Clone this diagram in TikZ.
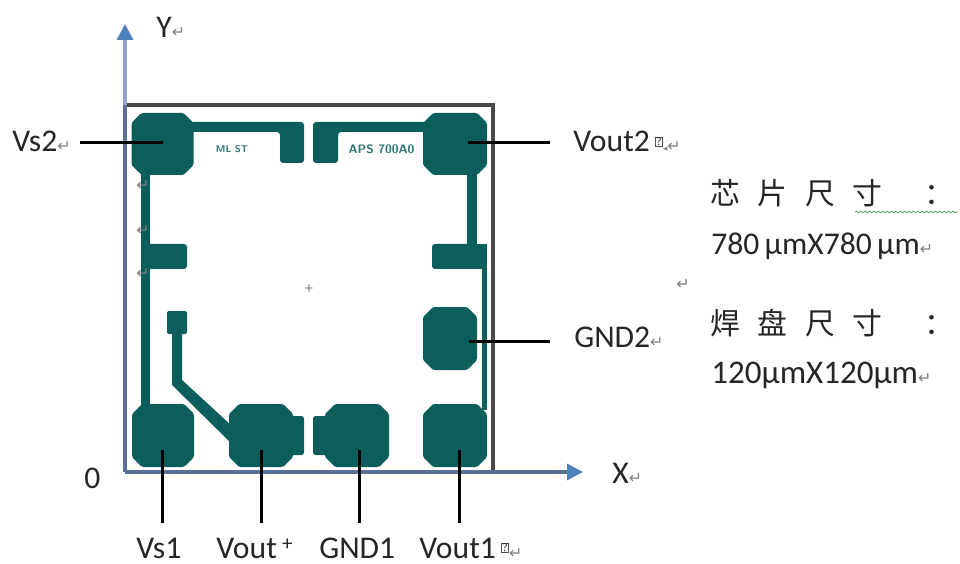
\documentclass[tikz,border=0pt]{standalone}
\usepackage{fontspec}
\setmainfont{Carlito}
\newfontfamily\cjk{Noto Sans CJK SC}
\newfontfamily\symbolfont{DejaVu Sans}
\usetikzlibrary{decorations.pathmorphing,arrows.meta}
\definecolor{chipteal}{HTML}{0B5E5B}
\definecolor{axisblue}{HTML}{4F81BD}
\definecolor{axisgrey}{HTML}{8FA6C0}
\definecolor{frameblue}{HTML}{5A7096}
\definecolor{framedark}{HTML}{4A4A4A}
\definecolor{markgrey}{HTML}{808080}
\definecolor{wavegreen}{HTML}{5FA05F}
\newcommand{\parmark}{{\symbolfont\fontsize{9}{9}\selectfont\textcolor{markgrey}{↵}}}
\newcommand{\qmark}{\tikz[baseline=-0.5pt]\node[draw=black!70,line width=0.016cm,inner sep=0.5pt,font=\fontsize{6.5}{6.5}\selectfont]{?};}
% pad with cut corners: name, centre x, centre y, half width, half height
\newcommand{\chippad}[5]{%
  \coordinate (#1) at (#2,#3);
  \fill [chipteal,rounded corners=0.03cm] (#2-#4+10,#3-#5) -- (#2+#4-10,#3-#5) -- (#2+#4,#3-#5+10) -- (#2+#4,#3+#5-10)
    -- (#2+#4-10,#3+#5) -- (#2-#4+10,#3+#5) -- (#2-#4,#3+#5-10) -- (#2-#4,#3-#5+10) -- cycle;%
}
\tikzset{
  pinlabel/.style={anchor=base west,inner sep=0pt,font=\fontsize{18}{18}\selectfont,text=black!85},
  sizetext/.style={anchor=base west,inner sep=0pt,font=\fontsize{18}{18}\selectfont,text=black!85},
  cjktext/.style={anchor=base west,inner sep=0pt,font=\cjk\fontsize{17}{17}\selectfont,text=black!85},
  chiptext/.style={inner sep=0pt,font=\sffamily\bfseries\fontsize{5.6}{5.6}\selectfont,text=chipteal!85},
  leaderline/.style={line width=0.06cm,black},
  markpin/.style={inner sep=0pt}
}
\begin{document}
\begin{tikzpicture}[x=0.02cm,y=-0.02cm]
  \useasboundingbox (0,0) rectangle (960,564);

  % Drawing frame and axes
  \coordinate (origin) at (125,472);
  \coordinate (xtip) at (583,472);
  \coordinate (ytip) at (125,24);
  \coordinate (frametl) at (125,105);
  \coordinate (frametr) at (493,105);
  \coordinate (framebr) at (493,472);
  \draw [line width=0.065cm,framedark] (frametl) -- (frametr) -- (framebr);
  \draw [line width=0.065cm,axisgrey,-{Triangle[length=0.32cm,width=0.32cm,color=axisblue]}] (frametl) -- (ytip);
  \draw [line width=0.065cm,frameblue] (origin) -- (frametl);
  \draw [line width=0.065cm,frameblue,-{Triangle[length=0.32cm,width=0.32cm,color=axisblue]}] (origin) -- (xtip);

  % Drawing traces
  \fill [chipteal,rounded corners=0.06cm] (190,122) -- (304,122) -- (304,163) -- (280,163) -- (280,132) -- (190,132) -- cycle;
  \fill [chipteal,rounded corners=0.06cm] (428,122) -- (313,122) -- (313,163) -- (338,163) -- (338,132) -- (428,132) -- cycle;
  \fill [chipteal] (141,170) rectangle (150,410);
  \fill [chipteal,rounded corners=0.06cm] (145,244) -- (187,244) -- (187,269) -- (145,269) -- cycle;
  \fill [chipteal] (467,170) rectangle (477,250);
  \fill [chipteal,rounded corners=0.06cm] (470,244) -- (432,244) -- (432,269) -- (470,269) -- cycle;
  \fill [chipteal] (460,244) rectangle (487,269);
  \fill [chipteal] (482,260) rectangle (487,410);
  \fill [chipteal,rounded corners=0.04cm] (167,311) rectangle (187,334);
  \fill [chipteal] (172,330) -- (182,330) -- (182,380) -- (232,426) -- (232,444) -- (172,385) -- cycle;

  % Drawing pads
  \chippad{padvstwo}{162.5}{144}{31}{31}
  \chippad{padvouttwo}{455}{144}{32}{31}
  \chippad{padgndtwo}{450}{338.5}{27}{31.5}
  \chippad{padvsone}{163}{435.5}{31}{31.5}
  \chippad{padvoutplus}{261}{435.5}{32}{31.5}
  \chippad{padgndone}{357}{435.5}{32}{31.5}
  \chippad{padvoutone}{455}{435.5}{32}{31.5}
  \fill [chipteal,rounded corners=0.05cm] (285,416) rectangle (304,455);
  \fill [chipteal,rounded corners=0.05cm] (313,416) rectangle (333,455);

  % Marking chip texts and centre cross
  \node [chiptext] (chipleft) at (232,149) {ML ST};
  \node [chiptext,font=\sffamily\bfseries\fontsize{7}{7}\selectfont] (chipright) at (381.5,149) {APS 700A0};
  \node [inner sep=0pt,text=markgrey,font=\fontsize{9}{9}\selectfont] (centrecross) at (309,289) {+};

  % Marking labels
  \node [pinlabel] (labelx) at (612,483) {X\parmark};
  \node [pinlabel] (labely) at (156,38) {Y\parmark};
  \node [pinlabel] (labelzero) at (84,488) {0};
  \node [pinlabel] (labelvstwo) at (12,152) {Vs2\parmark};
  \node [pinlabel] (labelvouttwo) at (573,152) {Vout2\,\raisebox{3pt}{\qmark}{\symbolfont\fontsize{5}{5}\selectfont\textcolor{markgrey}{◂}}\parmark};
  \node [pinlabel] (labelgndtwo) at (574,347) {GND2\parmark};
  \node [pinlabel] (labelvsone) at (136,558) {Vs1};
  \node [pinlabel] (labelvoutplus) at (216,558) {Vout\,\raisebox{4pt}{\fontsize{12}{12}\selectfont +}};
  \node [pinlabel] (labelgndone) at (319,558) {GND1};
  \node [pinlabel] (labelvoutone) at (419,558) {Vout1\,\raisebox{3pt}{\qmark}\parmark};

  % Marking size notes
  \node [cjktext] (chipsizetitle) at (710,205) {芯\hspace{10pt}片\hspace{10pt}尺\hspace{10pt}寸\hspace{24pt}：};
  \node [sizetext] (chipsizevalue) at (711,255) {780\,µmX780\,µm\parmark};
  \node [cjktext] (padsizetitle) at (710,334) {焊\hspace{10pt}盘\hspace{10pt}尺\hspace{10pt}寸\hspace{24pt}：};
  \node [sizetext,font=\fontsize{18.8}{18.8}\selectfont] (padsizevalue) at (711,383) {120µmX120µm\parmark};
  \coordinate (wavestart) at (855,212);
  \coordinate (waveend) at (958,212);
  \draw [wavegreen,line width=0.016cm,decorate,decoration={snake,amplitude=0.5pt,segment length=2.5pt}] (wavestart) -- (waveend);

  % Marking stray paragraph marks
  \node [markpin] (markone) at (143,186) {\parmark};
  \node [markpin] (marktwo) at (143,231) {\parmark};
  \node [markpin] (markthree) at (143,274) {\parmark};
  \node [markpin] (markfour) at (683,285) {\parmark};

  % Drawing leader lines
  \coordinate (endvstwo) at (80,143);
  \coordinate (startvstwo) at (163,143);
  \coordinate (endvouttwo) at (550,143);
  \coordinate (startvouttwo) at (468,143);
  \coordinate (endgndtwo) at (550,341);
  \coordinate (startgndtwo) at (469,341);
  \coordinate (startvsone) at (162,450);
  \coordinate (endvsone) at (162,523);
  \coordinate (startvoutplus) at (261,450);
  \coordinate (endvoutplus) at (261,523);
  \coordinate (startgndone) at (359,450);
  \coordinate (endgndone) at (359,523);
  \coordinate (startvoutone) at (459,450);
  \coordinate (endvoutone) at (459,523);
  \draw [leaderline] (endvstwo) -- (startvstwo);
  \draw [leaderline] (startvouttwo) -- (endvouttwo);
  \draw [leaderline] (startgndtwo) -- (endgndtwo);
  \draw [leaderline] (startvsone) -- (endvsone);
  \draw [leaderline] (startvoutplus) -- (endvoutplus);
  \draw [leaderline] (startgndone) -- (endgndone);
  \draw [leaderline] (startvoutone) -- (endvoutone);
\end{tikzpicture}
\end{document}
